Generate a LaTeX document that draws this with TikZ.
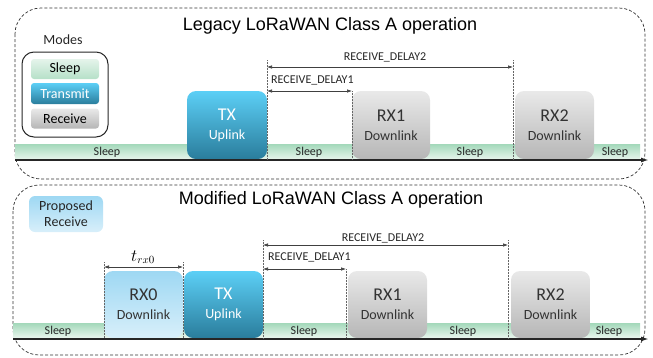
\documentclass[tikz,border=0pt]{standalone}
\usepackage{fontspec}
\setmainfont{Carlito}
\newfontfamily\titlefont{Liberation Sans}
\usetikzlibrary{arrows.meta}
\definecolor{sleeptop}{HTML}{A3D8BA}
\definecolor{sleepbot}{HTML}{E5F4EB}
\definecolor{txtop}{HTML}{5CCFF6}
\definecolor{txbot}{HTML}{2A7D9C}
\definecolor{rxtop}{HTML}{E9E9E9}
\definecolor{rxbot}{HTML}{B6B6B6}
\definecolor{rxotop}{HTML}{9ED8F3}
\definecolor{rxobot}{HTML}{D8EFFA}
\newcommand{\slotlabel}[2]{{\fontsize{18}{22}\selectfont #1}\\[1pt]{\fontsize{14}{16}\selectfont #2}}
\begin{document}
\begin{tikzpicture}[x=1pt,y=-1pt]
\tikzstyle{every node}+=[inner sep=0pt]
\tikzset{
  panel/.style={draw=black!80, line width=0.7pt, dash pattern=on 3pt off 2pt, rounded corners=26pt},
  heading/.style={font=\titlefont\fontsize{18}{20}\selectfont},
  small/.style={font=\fontsize{12}{14}\selectfont, text=black!85},
  sleepbar/.style={top color=sleeptop, bottom color=sleepbot},
  slot/.style={rounded corners=9pt, minimum height=68pt, align=center, font=\fontsize{14}{18}\selectfont},
  txslot/.style={slot, top color=txtop, bottom color=txbot, text=white},
  rxslot/.style={slot, top color=rxtop, bottom color=rxbot, text=black!80},
  rxoslot/.style={slot, top color=rxotop, bottom color=rxobot, text=black!80},
  modebox/.style={rounded corners=3pt, minimum width=68pt, minimum height=20pt, font=\fontsize{14}{16}\selectfont},
  guide/.style={densely dotted, black!60, line width=0.5pt},
  delay/.style={{Latex[length=5pt,width=3.5pt]}-{Latex[length=5pt,width=3.5pt]}, black!75, line width=0.6pt},
  axis/.style={-{Latex[length=8pt,width=5pt]}, line width=1.8pt, black!85}
}
\useasboundingbox (0,0) rectangle (653,357);

\draw[panel] (15,8) rectangle (645,179);
\draw[panel] (13,185) rectangle (645,355);

\node[heading] (legacy) at (330,26) {Legacy LoRaWAN Class A operation};
\node[heading] (modified) at (331,200) {Modified LoRaWAN Class A operation};

\node[font=\fontsize{14}{16}\selectfont, text=black!85] (modestitle) at (63,40) {Modes};
\node[draw=black!85, line width=1pt, rounded corners=12pt, minimum width=86pt, minimum height=85pt] (modes) at (65,94.5) {};
\node[modebox, top color=sleepbot, bottom color=sleeptop!80] (msleep) at (65,69) {Sleep};
\node[modebox, top color=txtop, bottom color=txbot, text=white, minimum height=21pt] (mtx) at (65,93.5) {Transmit};
\node[modebox, top color=rxtop, bottom color=rxbot] (mrx) at (65,118.5) {Receive};

\node[rounded corners=6pt, top color=rxotop, bottom color=rxobot, minimum width=74pt, minimum height=36pt, align=center, font=\fontsize{14}{16}\selectfont, text=black!85] (proposed) at (66,214) {Proposed\\Receive};

\node[sleepbar, minimum width=625pt, minimum height=15pt] (bar1) at (327.5,151.5) {};
\node[sleepbar, minimum width=627pt, minimum height=14pt] (bar2) at (326.5,330) {};

\node[small] (s1a) at (107,152) {Sleep};
\node[small] (s1b) at (309,152) {Sleep};
\node[small] (s1c) at (470,152) {Sleep};
\node[small] (s1d) at (615,152) {Sleep};
\node[small] (s2a) at (58,331) {Sleep};
\node[small] (s2b) at (304,331) {Sleep};
\node[small] (s2c) at (463,331) {Sleep};
\node[small] (s2d) at (609,331) {Sleep};

\node[txslot, minimum width=80pt] (tx) at (227,125) {\slotlabel{TX}{Uplink}};
\node[rxslot, minimum width=78pt] (rxa) at (391,125) {\slotlabel{RX1}{Downlink}};
\node[rxslot, minimum width=79pt] (rxb) at (554.5,125) {\slotlabel{RX2}{Downlink}};

\node[rxoslot, minimum width=79pt, minimum height=67pt] (rxz) at (143.5,304.5) {\slotlabel{RX0}{Downlink}};
\node[txslot, minimum width=79pt, minimum height=67pt] (txm) at (223.5,304.5) {\slotlabel{TX}{Uplink}};
\node[rxslot, minimum width=79pt, minimum height=67pt] (rxam) at (387.5,304.5) {\slotlabel{RX1}{Downlink}};
\node[rxslot, minimum width=79pt, minimum height=67pt] (rxbm) at (550.5,304.5) {\slotlabel{RX2}{Downlink}};

\coordinate (ax1s) at (15,160);
\coordinate (ax1e) at (649,160);
\coordinate (ax2s) at (13,339);
\coordinate (ax2e) at (649,339);
\draw[axis] (ax1s) -- (ax1e);
\draw[axis] (ax2s) -- (ax2e);

\coordinate (g1) at (267,60);
\coordinate (g1b) at (267,160);
\coordinate (g2) at (352,91);
\coordinate (g2b) at (352,160);
\coordinate (g3) at (513,60);
\coordinate (g3b) at (513,160);
\coordinate (d2s) at (267,67);
\coordinate (d2e) at (513,67);
\coordinate (d1s) at (267,91);
\draw[guide] (g1) -- (g1b);
\draw[guide] (g2) -- (g2b);
\draw[guide] (g3) -- (g3b);
\draw[delay] (d2s) -- (d2e);
\draw[delay] (d1s) -- (g2);
\node[small] (dly2) at (385,57) {RECEIVE\_DELAY2};
\node[small, anchor=west] (dly1) at (271,80) {RECEIVE\_DELAY1};

\coordinate (h0) at (104,262);
\coordinate (h0b) at (104,338);
\coordinate (h1) at (183,262);
\coordinate (h1b) at (183,338);
\coordinate (h2) at (263,240);
\coordinate (h2b) at (263,338);
\coordinate (h3) at (346,269);
\coordinate (h3b) at (346,338);
\coordinate (h4) at (508,240);
\coordinate (h4b) at (508,338);
\coordinate (e2s) at (263,245);
\coordinate (e2e) at (508,245);
\coordinate (e1s) at (263,269);
\coordinate (t0s) at (104,267);
\coordinate (t0e) at (183,267);
\draw[guide] (h0) -- (h0b);
\draw[guide] (h1) -- (h1b);
\draw[guide] (h2) -- (h2b);
\draw[guide] (h3) -- (h3b);
\draw[guide] (h4) -- (h4b);
\draw[delay] (e2s) -- (e2e);
\draw[delay] (e1s) -- (h3);
\draw[delay] (t0s) -- (t0e);
\node[small] (edly2) at (383,238) {RECEIVE\_DELAY2};
\node[small, anchor=west] (edly1) at (268,257) {RECEIVE\_DELAY1};
\node (trx) at (143,257) {\fontsize{16}{18}\selectfont$t_{rx0}$};
\end{tikzpicture}
\end{document}
